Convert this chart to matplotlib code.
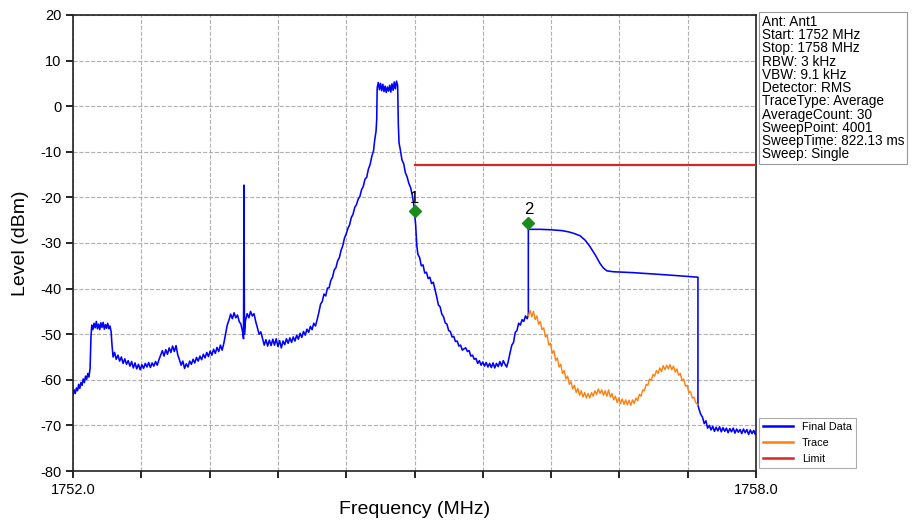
import matplotlib
matplotlib.use("Agg")
import matplotlib.pyplot as plt

plt.rcParams['font.family'] = ['Liberation Sans', 'DejaVu Sans']
plt.rcParams['axes.unicode_minus'] = False

# ---------------- data ----------------
final_freq = [
    1752.000, 1752.010, 1752.020, 1752.030, 1752.040, 1752.050, 1752.060, 1752.070, 1752.080, 1752.090,
    1752.100, 1752.110, 1752.120, 1752.130, 1752.140, 1752.150, 1752.158, 1752.165,
    1752.175, 1752.185, 1752.195, 1752.205, 1752.215, 1752.225, 1752.235, 1752.245, 1752.255, 1752.265,
    1752.275, 1752.285, 1752.295, 1752.305, 1752.315, 1752.325, 1752.335, 1752.343, 1752.352,
    1752.365, 1752.380, 1752.395, 1752.410, 1752.425, 1752.440, 1752.455, 1752.470, 1752.485, 1752.500,
    1752.515, 1752.530, 1752.545, 1752.560, 1752.575, 1752.590, 1752.605, 1752.620, 1752.635, 1752.650,
    1752.665, 1752.680, 1752.695, 1752.710, 1752.725, 1752.740, 1752.755, 1752.770, 1752.785, 1752.800,
    1752.815, 1752.830, 1752.845, 1752.860, 1752.875, 1752.890, 1752.905, 1752.920, 1752.935, 1752.950,
    1752.965, 1752.980, 1752.995, 1753.010, 1753.025, 1753.040, 1753.055, 1753.070, 1753.085, 1753.100,
    1753.115, 1753.130, 1753.145, 1753.160, 1753.175, 1753.190, 1753.205, 1753.220, 1753.235, 1753.250,
    1753.265, 1753.280, 1753.295, 1753.310, 1753.325, 1753.340, 1753.355, 1753.370, 1753.385, 1753.400,
    1753.415, 1753.430, 1753.445, 1753.460, 1753.475, 1753.490, 1753.498, 1753.502, 1753.506, 1753.515,
    1753.530, 1753.545, 1753.560, 1753.575, 1753.590, 1753.605, 1753.620, 1753.635, 1753.650, 1753.665,
    1753.680, 1753.695, 1753.710, 1753.725, 1753.740, 1753.755, 1753.770, 1753.785, 1753.800, 1753.815,
    1753.830, 1753.845, 1753.860, 1753.875, 1753.890, 1753.905, 1753.920, 1753.935, 1753.950, 1753.965,
    1753.980, 1753.995, 1754.010, 1754.025, 1754.040, 1754.055, 1754.070, 1754.085, 1754.100, 1754.115,
    1754.130, 1754.145, 1754.160, 1754.175, 1754.190, 1754.205, 1754.220, 1754.235, 1754.250, 1754.265,
    1754.280, 1754.295, 1754.310, 1754.325, 1754.340, 1754.355, 1754.370, 1754.385, 1754.400, 1754.415,
    1754.430, 1754.445, 1754.460, 1754.475, 1754.490, 1754.505, 1754.520, 1754.535, 1754.550, 1754.565,
    1754.580, 1754.595, 1754.610, 1754.625, 1754.640, 1754.650, 1754.662, 1754.668, 1754.672,
    1754.682, 1754.692, 1754.702, 1754.712, 1754.722, 1754.732, 1754.742, 1754.752, 1754.762, 1754.772,
    1754.782, 1754.792, 1754.802, 1754.812, 1754.822, 1754.832, 1754.842, 1754.852, 1754.858, 1754.864,
    1754.875, 1754.890, 1754.905, 1754.920, 1754.935, 1754.950, 1754.965, 1754.980, 1754.995, 1755.010,
    1755.020, 1755.030, 1755.045, 1755.060, 1755.075, 1755.090, 1755.105, 1755.120, 1755.135, 1755.150,
    1755.165, 1755.180, 1755.195, 1755.210, 1755.225, 1755.240, 1755.255, 1755.270, 1755.285, 1755.300,
    1755.315, 1755.330, 1755.345, 1755.360, 1755.375, 1755.390, 1755.405, 1755.420, 1755.435, 1755.450,
    1755.465, 1755.480, 1755.495, 1755.510, 1755.525, 1755.540, 1755.555, 1755.570, 1755.585, 1755.600,
    1755.615, 1755.630, 1755.645, 1755.660, 1755.675, 1755.690, 1755.705, 1755.720, 1755.735, 1755.750,
    1755.765, 1755.780, 1755.795, 1755.810, 1755.825, 1755.840, 1755.855, 1755.870, 1755.885, 1755.900,
    1755.915, 1755.930, 1755.945, 1755.960, 1755.975, 1755.990, 1756.000,
    1756.000, 1756.100, 1756.200, 1756.300, 1756.360, 1756.400, 1756.454, 1756.500, 1756.542, 1756.590,
    1756.630, 1756.660, 1756.690, 1756.745, 1756.920, 1757.220, 1757.490, 1757.490,
    1757.500, 1757.515, 1757.530, 1757.545, 1757.560, 1757.575, 1757.590, 1757.605, 1757.620, 1757.635,
    1757.650, 1757.665, 1757.680, 1757.695, 1757.710, 1757.725, 1757.740, 1757.755, 1757.770, 1757.785,
    1757.800, 1757.815, 1757.830, 1757.845, 1757.860, 1757.875, 1757.890, 1757.905, 1757.920, 1757.935,
    1757.950, 1757.965, 1757.980, 1757.995, 1758.000,
]
final_level = [
    -63.5, -62.2, -63.0, -61.8, -62.4, -61.0, -61.9, -60.6, -61.2, -59.8,
    -60.6, -59.2, -59.9, -58.6, -59.4, -57.5, -50.5, -48.0,
    -49.0, -47.6, -48.6, -47.2, -48.8, -47.8, -49.0, -47.5, -48.5, -47.4,
    -48.9, -47.9, -48.7, -47.6, -48.8, -48.2, -49.5, -52.5, -55.0,
    -54.0, -55.5, -54.6, -55.9, -55.0, -56.4, -55.4, -56.6, -55.8, -57.0,
    -56.0, -57.4, -56.3, -57.6, -56.6, -57.8, -56.7, -57.5, -56.4, -57.2,
    -56.2, -57.3, -56.3, -57.0, -56.0, -56.8, -55.6, -54.6, -53.6, -54.8,
    -53.4, -54.4, -53.0, -54.0, -52.6, -53.8, -52.5, -54.5, -55.6, -56.8,
    -55.9, -57.5, -56.5, -57.2, -55.9, -56.6, -55.5, -56.3, -55.1, -55.9,
    -54.8, -55.6, -54.4, -55.2, -54.0, -54.9, -53.7, -54.6, -53.3, -54.2,
    -52.9, -53.8, -52.4, -53.5, -52.0, -50.0, -48.0, -46.9, -45.6, -46.6,
    -45.3, -46.4, -45.8, -47.2, -47.8, -49.5, -51.0, -17.3, -50.0, -47.0,
    -45.5, -46.4, -45.0, -46.0, -45.5, -47.2, -48.6, -50.0, -49.5, -51.0,
    -52.4, -51.2, -52.6, -51.3, -52.5, -51.1, -52.4, -51.0, -52.7, -51.4,
    -53.0, -51.5, -52.3, -51.0, -52.0, -50.8, -51.8, -50.6, -51.5, -50.2,
    -51.1, -49.8, -50.7, -49.4, -50.2, -48.9, -49.6, -48.3, -49.0, -47.6,
    -48.2, -46.8, -45.2, -43.4, -42.8, -41.2, -41.6, -39.9, -39.8, -38.2,
    -37.5, -35.9, -35.4, -33.9, -33.2, -31.6, -30.6, -28.9, -28.0, -26.8,
    -26.0, -24.4, -23.7, -22.2, -21.6, -20.4, -19.8, -18.3, -17.6, -16.0,
    -15.6, -13.8, -12.8, -11.0, -9.8, -7.5, -5.5, -3.0, 4.0,
    5.2, 3.6, 5.0, 3.4, 4.8, 3.2, 4.4, 3.0, 4.2, 3.3,
    4.6, 3.1, 4.9, 3.5, 5.3, 3.8, 5.5, 4.5, -4.0, -8.0,
    -9.5, -11.8, -12.6, -14.6, -15.5, -16.9, -17.8, -19.4, -21.8, -26.0,
    -30.5, -32.5, -33.2, -35.0, -34.8, -36.6, -36.4, -37.8, -37.5, -38.9,
    -38.6, -40.2, -41.8, -43.6, -44.0, -45.6, -46.2, -47.5, -47.8, -49.2,
    -49.4, -50.6, -50.5, -51.6, -51.5, -52.6, -52.4, -53.5, -53.2, -53.0,
    -53.8, -53.6, -54.8, -54.6, -55.5, -55.3, -56.4, -55.8, -56.8, -56.1,
    -57.0, -56.2, -57.2, -56.4, -57.3, -56.3, -57.4, -56.4, -57.1, -56.0,
    -57.0, -55.8, -56.6, -57.2, -55.8, -54.0, -52.4, -51.8, -49.6, -49.2,
    -47.6, -48.0, -46.8, -47.2, -46.0, -46.6, -45.8,
    -27.0, -27.0, -27.1, -27.3, -27.6, -27.9, -28.4, -29.4, -30.8, -32.7,
    -34.5, -35.5, -36.1, -36.3, -36.5, -37.0, -37.5, -65.5,
    -66.5, -67.6, -68.2, -69.6, -69.0, -70.6, -70.0, -71.0, -70.2, -71.3,
    -70.4, -71.2, -70.3, -71.4, -70.5, -71.3, -70.6, -71.6, -70.7, -71.4,
    -70.6, -71.7, -70.8, -71.5, -70.9, -71.8, -70.8, -71.6, -70.9, -72.0,
    -71.0, -71.8, -71.1, -72.0, -71.5,
]

trace_freq = [
    1756.000, 1756.015, 1756.030, 1756.045, 1756.060, 1756.075, 1756.090, 1756.105, 1756.120, 1756.135,
    1756.150, 1756.165, 1756.180, 1756.195, 1756.210, 1756.225, 1756.240, 1756.255, 1756.270, 1756.285,
    1756.300, 1756.315, 1756.330, 1756.345, 1756.360, 1756.375, 1756.390, 1756.405, 1756.420, 1756.435,
    1756.450, 1756.465, 1756.480, 1756.495, 1756.510, 1756.525, 1756.540, 1756.555, 1756.570, 1756.585,
    1756.600, 1756.615, 1756.630, 1756.645, 1756.660, 1756.675, 1756.690, 1756.705, 1756.720, 1756.735,
    1756.750, 1756.765, 1756.780, 1756.795, 1756.810, 1756.825, 1756.840, 1756.855, 1756.870, 1756.885,
    1756.900, 1756.915, 1756.930, 1756.945, 1756.960, 1756.975, 1756.990, 1757.005, 1757.020, 1757.035,
    1757.050, 1757.065, 1757.080, 1757.095, 1757.110, 1757.125, 1757.140, 1757.155, 1757.170, 1757.185,
    1757.200, 1757.215, 1757.230, 1757.245, 1757.260, 1757.275, 1757.290, 1757.305, 1757.320, 1757.335,
    1757.350, 1757.365, 1757.380, 1757.395, 1757.410, 1757.425, 1757.440, 1757.455, 1757.470, 1757.490,
]
trace_level = [
    -46.0, -44.8, -46.2, -45.0, -46.8, -46.0, -47.8, -47.2, -49.0, -48.6,
    -50.6, -50.2, -52.4, -52.0, -54.2, -53.6, -55.8, -55.2, -57.2, -56.6,
    -58.6, -58.0, -59.8, -59.2, -61.0, -60.4, -62.0, -61.2, -62.8, -61.9,
    -63.4, -62.4, -63.8, -62.8, -64.0, -63.0, -64.0, -62.8, -63.6, -62.4,
    -63.2, -62.0, -63.0, -62.2, -63.4, -62.4, -63.6, -62.2, -63.8, -63.0,
    -64.4, -63.6, -65.0, -64.0, -65.2, -64.2, -65.4, -64.4, -65.5, -64.5,
    -65.6, -64.4, -65.2, -64.0, -64.6, -63.2, -63.6, -62.2, -62.4, -61.0,
    -61.2, -59.8, -60.2, -58.8, -59.2, -58.0, -58.6, -57.4, -58.2, -56.9,
    -57.8, -56.8, -57.6, -56.7, -57.8, -57.0, -58.3, -57.6, -59.0, -58.6,
    -60.2, -59.8, -61.4, -61.2, -62.8, -62.6, -64.0, -63.8, -65.0, -65.5,
]

limit_freq = [1755.0, 1758.0]
limit_level = [-13.0, -13.0]

marker_freq = [1755.0, 1756.0]
marker_level = [-23.0, -25.6]
marker_labels = ["1", "2"]

info_lines = [
    "Ant: Ant1", "Start: 1752 MHz", "Stop: 1758 MHz", "RBW: 3 kHz", "VBW: 9.1 kHz",
    "Detector: RMS", "TraceType: Average", "AverageCount: 30", "SweepPoint: 4001",
    "SweepTime: 822.13 ms", "Sweep: Single",
]

x_ticks = [1752.0, 1752.6, 1753.2, 1753.8, 1754.4, 1755.0, 1755.6, 1756.2, 1756.8, 1757.4, 1758.0]
x_ticklabels = ["1752.0", "", "", "", "", "", "", "", "", "", "1758.0"]
y_ticks = [20, 10, 0, -10, -20, -30, -40, -50, -60, -70, -80]

# ---------------- figure ----------------
fig = plt.figure(figsize=(9.13, 5.24), dpi=100)
ax = fig.add_axes([73 / 913, 53 / 524, 683 / 913, 456 / 524])

ax.plot(final_freq, final_level, color="#0000ff", lw=1.15, label="Final Data", zorder=3)
ax.plot(trace_freq, trace_level, color="#ff7f0e", lw=1.0, label="Trace", zorder=4)
ax.plot(limit_freq, limit_level, color="#d62728", lw=1.6, label="Limit", zorder=3)

ax.plot(marker_freq, marker_level, linestyle="none", marker="D", markersize=6,
        color="#1a8c1a", zorder=5)
for f, l, t in zip(marker_freq, marker_level, marker_labels):
    ax.text(f, l + 1.2, t, ha="center", va="bottom", fontsize=12, zorder=6)

ax.set_xlim(1752.0, 1758.0)
ax.set_ylim(-80, 20)
ax.set_xticks(x_ticks)
ax.set_xticklabels(x_ticklabels)
ax.set_yticks(y_ticks)
ax.tick_params(axis="both", labelsize=10.5, length=5, width=1.2, direction="out")
ax.grid(True, color="#b0b0b0", linestyle="--", linewidth=0.8)
for s in ax.spines.values():
    s.set_linewidth(1.2)
    s.set_color("#222222")

ax.set_xlabel("Frequency (MHz)", fontsize=14, labelpad=3)
ax.set_ylabel("Level (dBm)", fontsize=14, labelpad=8)

leg = ax.legend(loc="lower left", bbox_to_anchor=(1.004, 0.006), fontsize=7.8,
                frameon=True, fancybox=False, edgecolor="#999999",
                handlelength=2.8, borderaxespad=0.0, labelspacing=0.55)
leg.get_frame().set_linewidth(0.8)
for h in leg.get_lines():
    h.set_linewidth(1.8)

fig.text(762 / 913, 1 - 15 / 524, "\n".join(info_lines), ha="left", va="top",
         fontsize=9.8, linespacing=0.93,
         bbox=dict(boxstyle="square,pad=0.2", facecolor="white", edgecolor="#999999", linewidth=0.8))

fig.savefig("out.png", dpi=100)
